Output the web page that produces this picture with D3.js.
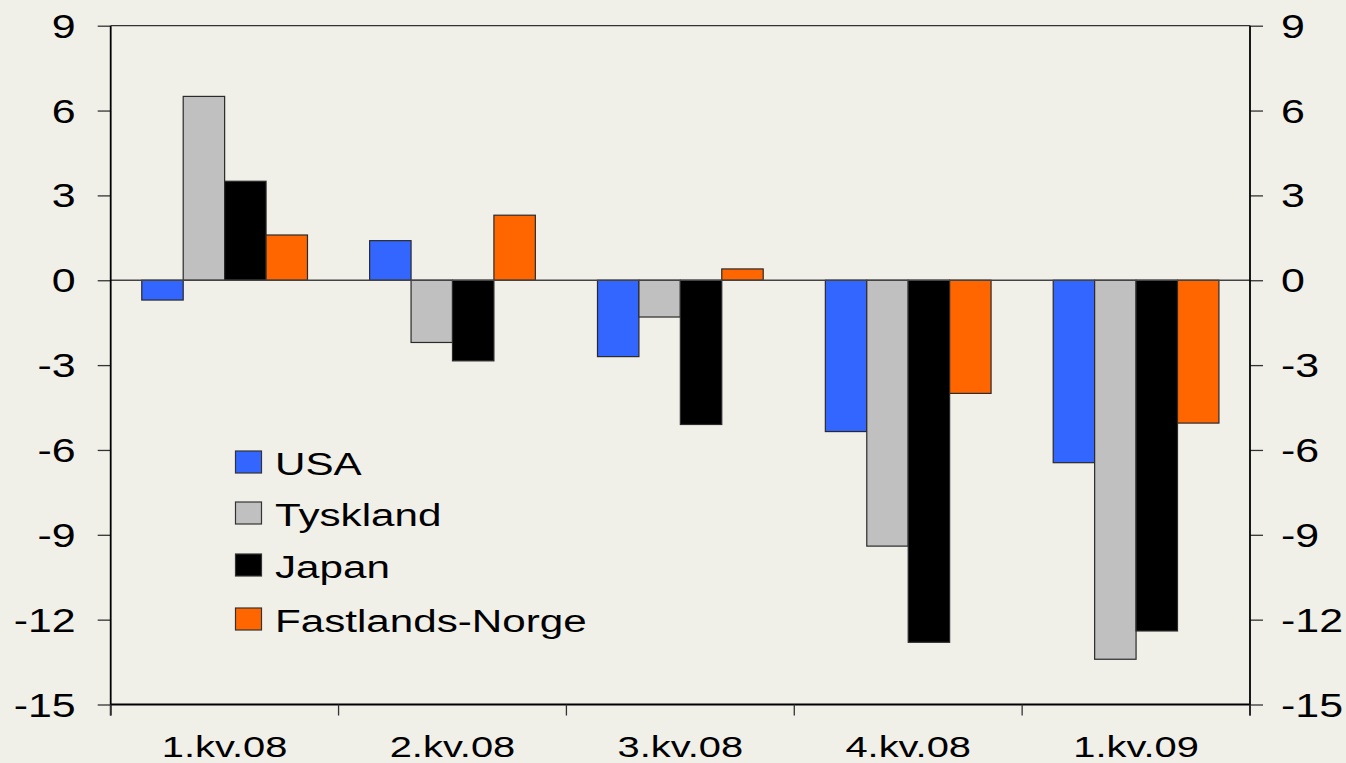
<!DOCTYPE html>
<html>
<head>
<meta charset="utf-8">
<script src="https://cdn.jsdelivr.net/npm/d3@7"></script>
<style>
html,body{margin:0;padding:0;background:#F0EFE8;}
svg{display:block;}
text{font-family:"Liberation Sans",Arial,sans-serif;fill:#000;}
</style>
</head>
<body>
<svg id="chart" width="1346" height="763"></svg>
<script>
const categories = ["1.kv.08","2.kv.08","3.kv.08","4.kv.08","1.kv.09"];
const seriesNames = ["USA","Tyskland","Japan","Fastlands-Norge"];
const seriesColors = ["#3366FF","#C0C0C0","#000000","#FF6600"];
const usa       = [-0.7, 1.4, -2.7, -5.35, -6.45];
const tyskland  = [6.5, -2.2, -1.3, -9.4, -13.4];
const japan     = [3.5, -2.85, -5.1, -12.8, -12.4];
const fastlands = [1.6, 2.3, 0.4, -4.0, -5.05];
const yTicks = [9, 6, 3, 0, -3, -6, -9, -12, -15];

const seriesValues = [usa, tyskland, japan, fastlands];

(function () {
const svg = d3.select("#chart");
const W = 1346, H = 763;
const pLeft = 110.7, pRight = 1250, pTop = 25.7, pBottom = 704.5;
const sx = 1.3;

svg.append("rect").attr("width", W).attr("height", H).attr("fill", "#F0EFE8");

const x0 = d3.scaleBand().domain(categories).range([pLeft, pRight]).paddingInner(0).paddingOuter(0);
const x1 = d3.scaleBand().domain(seriesNames).range([0, x0.bandwidth()]).paddingInner(0).paddingOuter(0.75);
const y = d3.scaleLinear().domain([-15, 9]).range([pBottom, pTop]);

// bars
const g = svg.append("g");
categories.forEach((c, ci) => {
  seriesNames.forEach((s, si) => {
    const v = seriesValues[si][ci];
    g.append("rect")
      .attr("x", x0(c) + x1(s))
      .attr("y", y(Math.max(0, v)))
      .attr("width", x1.bandwidth())
      .attr("height", Math.abs(y(v) - y(0)))
      .attr("fill", seriesColors[si])
      .attr("stroke", "#2a2a2a")
      .attr("stroke-width", 1.2);
  });
});

// zero line
svg.append("line")
  .attr("x1", pLeft).attr("x2", pRight)
  .attr("y1", y(0)).attr("y2", y(0))
  .attr("stroke", "#444").attr("stroke-width", 1.3);

// left axis
const yAxisL = d3.axisLeft(y).tickValues(yTicks).tickSize(13).tickFormat("");
const gl = svg.append("g").attr("transform", `translate(${pLeft},0)`).call(yAxisL);
gl.select(".domain").remove();
gl.selectAll(".tick line").attr("stroke", "#333").attr("stroke-width", 1.3);

const yAxisR = d3.axisRight(y).tickValues(yTicks).tickSize(13).tickFormat("");
const gr = svg.append("g").attr("transform", `translate(${pRight},0)`).call(yAxisR);
gr.select(".domain").remove();
gr.selectAll(".tick line").attr("stroke", "#333").attr("stroke-width", 1.3);

// frame lines
svg.append("line").attr("x1", pLeft).attr("x2", pLeft).attr("y1", pTop).attr("y2", pBottom + 11)
  .attr("stroke", "#000").attr("stroke-width", 1.8);
svg.append("line").attr("x1", pRight).attr("x2", pRight).attr("y1", pTop).attr("y2", pBottom + 11)
  .attr("stroke", "#000").attr("stroke-width", 1.8);
svg.append("line").attr("x1", pLeft).attr("x2", pRight).attr("y1", pTop).attr("y2", pTop)
  .attr("stroke", "#333").attr("stroke-width", 1.3);
svg.append("line").attr("x1", pLeft).attr("x2", pRight).attr("y1", pBottom).attr("y2", pBottom)
  .attr("stroke", "#000").attr("stroke-width", 1.8);

// x axis ticks at category boundaries
const bounds = categories.map(c => x0(c)).concat([pRight]);
svg.selectAll(".xtick").data(bounds).enter().append("line")
  .attr("x1", d => d).attr("x2", d => d)
  .attr("y1", pBottom).attr("y2", pBottom + 11)
  .attr("stroke", "#333").attr("stroke-width", 1.3);

// y tick labels
yTicks.forEach(t => {
  svg.append("text")
    .attr("transform", `translate(${pLeft - 35},${y(t) + 12}) scale(${sx},1)`)
    .attr("text-anchor", "end")
    .attr("font-size", 33)
    .text(t);
  svg.append("text")
    .attr("transform", `translate(${pRight + 31},${y(t) + 12}) scale(${sx},1)`)
    .attr("text-anchor", "start")
    .attr("font-size", 33)
    .text(t);
});

// x labels
categories.forEach(c => {
  svg.append("text")
    .attr("transform", `translate(${x0(c) + x0.bandwidth() / 2},757) scale(1.33,1)`)
    .attr("text-anchor", "middle")
    .attr("font-size", 30)
    .text(c);
});

// legend
const legX = 235.5, legBase = [475, 526, 578, 632];
seriesNames.forEach((s, i) => {
  svg.append("rect")
    .attr("x", legX).attr("y", legBase[i] - 24)
    .attr("width", 26).attr("height", 22)
    .attr("fill", seriesColors[i]).attr("stroke", "#333").attr("stroke-width", 1.2);
  svg.append("text")
    .attr("transform", `translate(275,${legBase[i]}) scale(1.36,1)`)
    .attr("font-size", 31)
    .text(s);
});
})();
</script>
</body>
</html>
